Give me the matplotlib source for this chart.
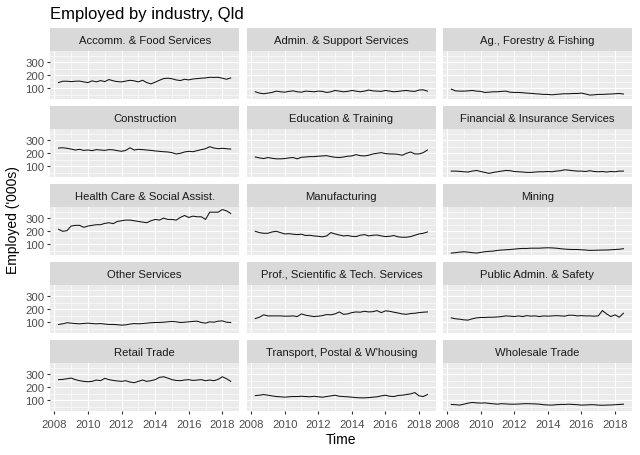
import numpy as np
import matplotlib
matplotlib.use("Agg")
import matplotlib.pyplot as plt
from matplotlib.ticker import MultipleLocator

plt.rcParams['font.family'] = ['Liberation Sans', 'DejaVu Sans']

# quarterly, May 2008 to Aug 2018
time = np.arange(2008.25, 2018.51, 0.25)

accomm = [145, 155, 155, 152, 155, 156, 150, 145, 158, 150,
          160, 152, 168, 158, 152, 150, 156, 162, 158, 150,
          162, 145, 135, 148, 162, 175, 178, 174, 165, 160,
          170, 165, 172, 175, 178, 180, 185, 184, 185, 178,
          170, 180]
admin = [75, 65, 60, 65, 70, 80, 75, 72, 78, 82,
         75, 72, 80, 78, 75, 80, 78, 70, 75, 85,
         80, 75, 78, 85, 80, 75, 80, 88, 82, 80,
         78, 85, 80, 75, 78, 82, 85, 80, 78, 88,
         90, 80]
ag = [95, 82, 80, 80, 82, 85, 80, 78, 70, 72,
      75, 75, 78, 80, 72, 70, 70, 68, 65, 63,
      60, 58, 55, 55, 52, 55, 58, 60, 60, 62,
      62, 65, 58, 50, 52, 55, 55, 57, 58, 60,
      62, 58]
construction = [240, 242, 238, 232, 225, 230, 222, 225, 220, 228,
                225, 222, 228, 226, 220, 215, 222, 242, 225, 230,
                228, 225, 222, 218, 215, 212, 210, 205, 195, 200,
                210, 215, 212, 220, 228, 235, 250, 240, 235, 238,
                235, 232]
education = [172, 165, 160, 168, 162, 158, 158, 160, 165, 168,
             158, 170, 172, 175, 175, 178, 180, 182, 175, 170,
             168, 172, 178, 180, 190, 182, 180, 185, 195, 200,
             205, 198, 195, 195, 192, 185, 200, 210, 195, 195,
             205, 225]
financial = [65, 65, 63, 60, 58, 65, 70, 62, 55, 48,
             55, 60, 65, 70, 68, 62, 60, 58, 55, 55,
             58, 60, 60, 62, 60, 65, 68, 75, 72, 68,
             65, 65, 62, 68, 62, 60, 62, 58, 62, 60,
             65, 65]
health = [215, 200, 205, 240, 245, 245, 230, 240, 245, 250,
          250, 260, 265, 258, 275, 280, 285, 285, 280, 275,
          270, 265, 280, 290, 285, 300, 290, 290, 285, 305,
          320, 305, 315, 310, 310, 290, 345, 345, 345, 365,
          355, 335]
manufacturing = [200, 190, 185, 185, 195, 200, 190, 180, 182, 178,
                 175, 178, 168, 170, 165, 162, 158, 165, 190, 180,
                 172, 165, 168, 162, 160, 170, 175, 165, 170, 172,
                 165, 160, 162, 168, 158, 155, 155, 160, 170, 180,
                 185, 195]
mining = [35, 38, 42, 45, 42, 38, 35, 40, 45, 48,
          50, 55, 58, 60, 62, 65, 68, 70, 70, 72,
          72, 72, 74, 75, 74, 72, 68, 65, 63, 62,
          62, 60, 58, 55, 56, 57, 58, 58, 60, 62,
          64, 68]
other = [85, 90, 98, 95, 92, 90, 93, 95, 92, 90,
         92, 88, 85, 85, 83, 80, 82, 88, 92, 90,
         92, 95, 98, 100, 100, 102, 105, 108, 105, 100,
         102, 105, 108, 110, 100, 95, 105, 102, 110, 112,
         102, 100]
prof = [130, 140, 158, 150, 150, 150, 150, 148, 148, 150,
        145, 165, 155, 150, 145, 148, 152, 160, 158, 165,
        180, 162, 165, 175, 180, 178, 185, 180, 182, 190,
        175, 188, 185, 178, 172, 165, 162, 168, 170, 175,
        178, 180]
public = [135, 128, 125, 120, 118, 128, 135, 138, 138, 140,
          140, 142, 145, 150, 148, 145, 150, 145, 152, 148,
          150, 145, 150, 148, 150, 152, 150, 148, 155, 155,
          150, 152, 150, 150, 148, 150, 190, 165, 145, 158,
          140, 170]
retail = [258, 260, 265, 270, 258, 250, 245, 242, 245, 255,
          250, 268, 258, 252, 248, 245, 250, 240, 235, 245,
          255, 245, 250, 258, 275, 280, 270, 258, 252, 250,
          255, 258, 252, 255, 258, 250, 255, 250, 260, 280,
          265, 245]
transport = [137, 140, 145, 140, 135, 130, 128, 125, 128, 130,
             130, 132, 130, 128, 132, 128, 125, 130, 135, 140,
             132, 130, 128, 125, 122, 120, 120, 122, 125, 128,
             135, 140, 132, 130, 138, 140, 145, 150, 160, 135,
             130, 145]
wholesale = [70, 68, 65, 72, 80, 85, 82, 80, 82, 78,
             75, 72, 76, 74, 72, 72, 73, 75, 76, 75,
             74, 72, 68, 66, 65, 68, 70, 70, 72, 70,
             68, 65, 66, 68, 68, 65, 64, 65, 66, 68,
             70, 72]

industries = ["Accomm. & Food Services", "Admin. & Support Services", "Ag., Forestry & Fishing",
              "Construction", "Education & Training", "Financial & Insurance Services",
              "Health Care & Social Assist.", "Manufacturing", "Mining",
              "Other Services", "Prof., Scientific & Tech. Services", "Public Admin. & Safety",
              "Retail Trade", "Transport, Postal & W'housing", "Wholesale Trade"]
series = [accomm, admin, ag, construction, education, financial, health, manufacturing,
          mining, other, prof, public, retail, transport, wholesale]

W, H = 640, 456
fig = plt.figure(figsize=(6.4, 4.56), dpi=100)

col_left = [50, 246.7, 442.7]
pw = 189.3
strip_h = 23.3
ph = 48
pitch = 78

def frac(x, y, w, h):
    return [x / W, 1 - (y + h) / H, w / W, h / H]

for k, (name, vals) in enumerate(zip(industries, series)):
    r, c = divmod(k, 3)
    top = 29 + pitch * r
    # strip
    sax = fig.add_axes(frac(col_left[c], top, pw, strip_h))
    sax.set_facecolor('#D9D9D9')
    sax.set_xticks([]); sax.set_yticks([])
    for s in sax.spines.values():
        s.set_visible(False)
    sax.text(0.5, 0.5, name, ha='center', va='center', fontsize=8.1, color='#1A1A1A',
             transform=sax.transAxes)
    # panel
    ax = fig.add_axes(frac(col_left[c], top + strip_h, pw, ph))
    ax.set_facecolor('#EBEBEB')
    for s in ax.spines.values():
        s.set_visible(False)
    ax.plot(time, vals, color='#111111', lw=0.75)
    ax.set_xlim(2007.74, 2019.01)
    ax.set_ylim(18, 382)
    ax.xaxis.set_major_locator(MultipleLocator(2))
    ax.xaxis.set_minor_locator(MultipleLocator(1))
    ax.set_yticks([100, 200, 300])
    ax.set_yticks([50, 150, 250, 350], minor=True)
    ax.grid(which='major', color='white', lw=0.85)
    ax.grid(which='minor', color='white', lw=0.4)
    ax.set_axisbelow(True)
    ax.tick_params(which='minor', length=0)
    ax.tick_params(which='major', length=2.5, width=0.8, color='#333333',
                   labelsize=8.2, labelcolor='#4D4D4D')
    ax.tick_params(axis='y', pad=1.5)
    ax.tick_params(axis='x', pad=3)
    if c != 0:
        ax.tick_params(axis='y', which='major', left=False, labelleft=False)
    if r != 4:
        ax.tick_params(axis='x', which='major', bottom=False, labelbottom=False)

fig.text(50 / W, 1 - 15 / H, "Employed by industry, Qld", fontsize=12, ha='left', va='center')
fig.text(341 / W, 1 - 440 / H, "Time", fontsize=10, ha='center', va='center')
fig.text(13 / W, 1 - 220 / H, "Employed ('000s)", fontsize=10, ha='center', va='center',
         rotation=90)

fig.savefig("out.png", dpi=100, facecolor='white')
